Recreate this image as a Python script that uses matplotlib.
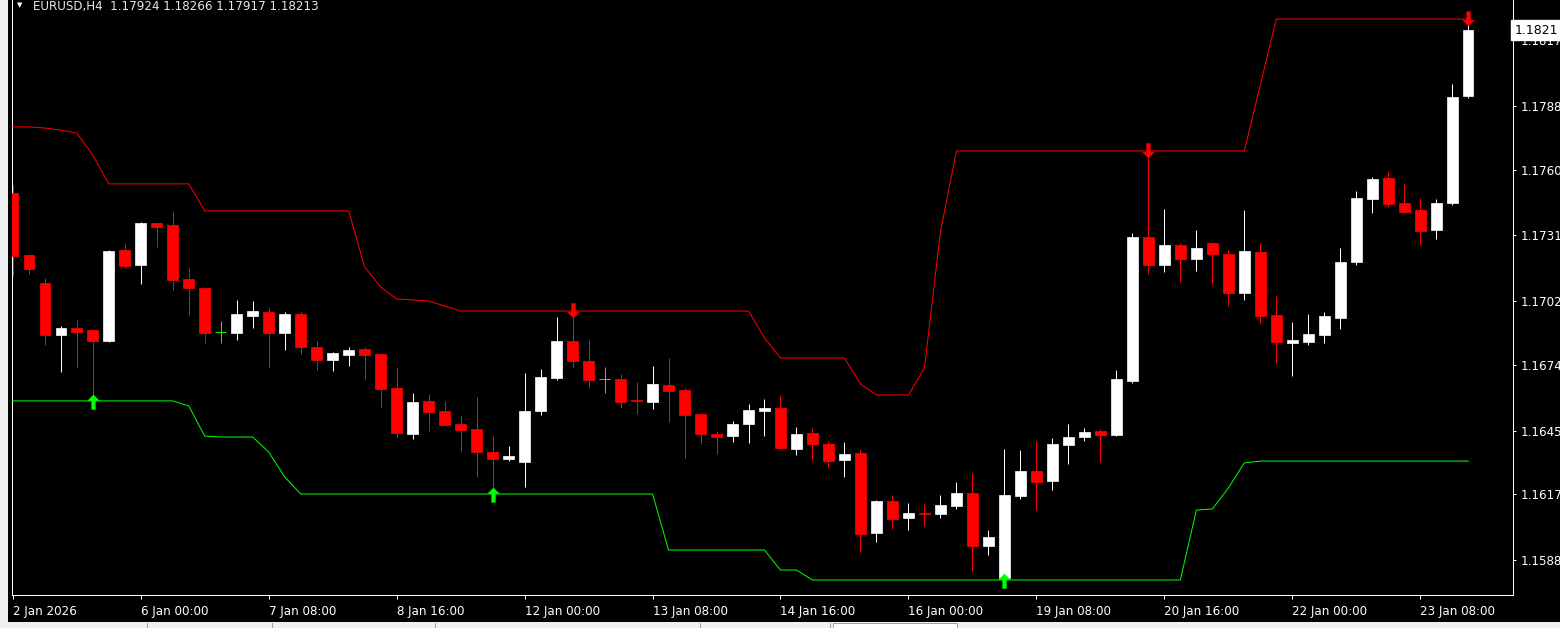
import matplotlib
matplotlib.use('Agg')
import matplotlib.pyplot as plt
from matplotlib.path import Path
from matplotlib.patches import Rectangle
import numpy as np

symbol = 'EURUSD,H4'

# H4 candles, left to right
opens = [1.17497, 1.17224, 1.17100, 1.16871, 1.16902, 1.16893, 1.16845, 1.17246, 1.17180, 1.17365,
         1.17356, 1.17118, 1.17078, 1.16885, 1.16880, 1.16955, 1.16973, 1.16880, 1.16964, 1.16818,
         1.16761, 1.16783, 1.16810, 1.16788, 1.16638, 1.16435, 1.16581, 1.16537, 1.16479, 1.16457,
         1.16356, 1.16325, 1.16312, 1.16537, 1.16682, 1.16845, 1.16757, 1.16678, 1.16678, 1.16583,
         1.16576, 1.16651, 1.16629, 1.16523, 1.16435, 1.16426, 1.16479, 1.16537, 1.16550, 1.16369,
         1.16440, 1.16391, 1.16321, 1.16352, 1.15999, 1.16140, 1.16065, 1.16087, 1.16083, 1.16118,
         1.16175, 1.15942, 1.15801, 1.16162, 1.16272, 1.16228, 1.16387, 1.16422, 1.16448, 1.16431,
         1.16669, 1.17303, 1.17180, 1.17268, 1.17206, 1.17277, 1.17228, 1.17056, 1.17237, 1.16959,
         1.16836, 1.16840, 1.16871, 1.16946, 1.17193, 1.17470, 1.17563, 1.17453, 1.17422, 1.17334,
         1.17453, 1.17924]
highs = [1.17532, 1.17228, 1.17122, 1.16911, 1.16937, 1.16898, 1.17246, 1.17277, 1.17369, 1.17369,
         1.17418, 1.17166, 1.17083, 1.16933, 1.17026, 1.17021, 1.16990, 1.16973, 1.16977, 1.16845,
         1.16796, 1.16818, 1.16818, 1.16792, 1.16730, 1.16616, 1.16611, 1.16581, 1.16519, 1.16598,
         1.16426, 1.16382, 1.16704, 1.16722, 1.16951, 1.16977, 1.16849, 1.16730, 1.16700, 1.16664,
         1.16735, 1.16770, 1.16638, 1.16523, 1.16448, 1.16493, 1.16567, 1.16589, 1.16607, 1.16466,
         1.16462, 1.16404, 1.16400, 1.16369, 1.16144, 1.16167, 1.16131, 1.16127, 1.16167, 1.16224,
         1.16263, 1.16012, 1.16369, 1.16365, 1.16404, 1.16418, 1.16479, 1.16462, 1.16457, 1.16717,
         1.17321, 1.17682, 1.17426, 1.17277, 1.17334, 1.17281, 1.17246, 1.17422, 1.17277, 1.17043,
         1.16929, 1.16964, 1.16973, 1.17255, 1.17506, 1.17567, 1.17594, 1.17541, 1.17475, 1.17470,
         1.17977, 1.18266]
lows = [1.17131, 1.17140, 1.16827, 1.16708, 1.16726, 1.16585, 1.16840, 1.17166, 1.17096, 1.17259,
        1.17070, 1.16959, 1.16836, 1.16836, 1.16849, 1.16902, 1.16726, 1.16805, 1.16788, 1.16717,
        1.16713, 1.16735, 1.16678, 1.16550, 1.16422, 1.16413, 1.16448, 1.16470, 1.16356, 1.16246,
        1.16171, 1.16316, 1.16202, 1.16519, 1.16673, 1.16726, 1.16638, 1.16616, 1.16550, 1.16523,
        1.16545, 1.16488, 1.16330, 1.16391, 1.16347, 1.16400, 1.16396, 1.16426, 1.16369, 1.16343,
        1.16321, 1.16285, 1.16246, 1.15915, 1.15959, 1.16017, 1.16012, 1.16030, 1.16065, 1.16105,
        1.15832, 1.15902, 1.15792, 1.16149, 1.16100, 1.16189, 1.16303, 1.16404, 1.16312, 1.16426,
        1.16660, 1.17140, 1.17149, 1.17105, 1.17153, 1.17096, 1.16999, 1.17026, 1.16924, 1.16748,
        1.16691, 1.16827, 1.16836, 1.16898, 1.17180, 1.17409, 1.17435, 1.17409, 1.17268, 1.17294,
        1.17444, 1.17917]
closes = [1.17219, 1.17162, 1.16871, 1.16902, 1.16885, 1.16845, 1.17241, 1.17175, 1.17365, 1.17347,
          1.17114, 1.17078, 1.16880, 1.16885, 1.16964, 1.16977, 1.16880, 1.16964, 1.16818, 1.16761,
          1.16792, 1.16805, 1.16783, 1.16633, 1.16440, 1.16576, 1.16532, 1.16475, 1.16453, 1.16356,
          1.16325, 1.16338, 1.16537, 1.16686, 1.16845, 1.16757, 1.16673, 1.16678, 1.16576, 1.16581,
          1.16656, 1.16625, 1.16519, 1.16435, 1.16422, 1.16479, 1.16541, 1.16550, 1.16374, 1.16435,
          1.16391, 1.16316, 1.16347, 1.15995, 1.16140, 1.16061, 1.16087, 1.16085, 1.16122, 1.16175,
          1.15942, 1.15982, 1.16167, 1.16272, 1.16224, 1.16391, 1.16422, 1.16444, 1.16431, 1.16678,
          1.17303, 1.17180, 1.17268, 1.17206, 1.17255, 1.17228, 1.17056, 1.17241, 1.16955, 1.16840,
          1.16849, 1.16876, 1.16955, 1.17193, 1.17475, 1.17559, 1.17448, 1.17413, 1.17329, 1.17453,
          1.17920, 1.18213]

# channel indicator (red = upper, green = lower)
upper_band = [1.17788, 1.17788, 1.17783, 1.17774, 1.17761, 1.17664, 1.17537, 1.17537, 1.17537, 1.17537,
              1.17537, 1.17537, 1.17418, 1.17418, 1.17418, 1.17418, 1.17418, 1.17418, 1.17418, 1.17418,
              1.17418, 1.17418, 1.17171, 1.17083, 1.17030, 1.17026, 1.17021, 1.16999, 1.16977, 1.16977,
              1.16977, 1.16977, 1.16977, 1.16977, 1.16977, 1.16977, 1.16977, 1.16977, 1.16977, 1.16977,
              1.16977, 1.16977, 1.16977, 1.16977, 1.16977, 1.16977, 1.16977, 1.16858, 1.16770, 1.16770,
              1.16770, 1.16770, 1.16770, 1.16656, 1.16607, 1.16607, 1.16607, 1.16726, 1.17325, 1.17682,
              1.17682, 1.17682, 1.17682, 1.17682, 1.17682, 1.17682, 1.17682, 1.17682, 1.17682, 1.17682,
              1.17682, 1.17682, 1.17682, 1.17682, 1.17682, 1.17682, 1.17682, 1.17682, 1.17973, 1.18263,
              1.18263, 1.18263, 1.18263, 1.18263, 1.18263, 1.18263, 1.18263, 1.18263, 1.18263, 1.18263,
              1.18263, 1.18263]
lower_band = [1.16581, 1.16581, 1.16581, 1.16581, 1.16581, 1.16581, 1.16581, 1.16581, 1.16581, 1.16581,
              1.16581, 1.16559, 1.16426, 1.16422, 1.16422, 1.16422, 1.16356, 1.16246, 1.16171, 1.16171,
              1.16171, 1.16171, 1.16171, 1.16171, 1.16171, 1.16171, 1.16171, 1.16171, 1.16171, 1.16171,
              1.16171, 1.16171, 1.16171, 1.16171, 1.16171, 1.16171, 1.16171, 1.16171, 1.16171, 1.16171,
              1.16171, 1.15924, 1.15924, 1.15924, 1.15924, 1.15924, 1.15924, 1.15924, 1.15836, 1.15836,
              1.15792, 1.15792, 1.15792, 1.15792, 1.15792, 1.15792, 1.15792, 1.15792, 1.15792, 1.15792,
              1.15792, 1.15792, 1.15792, 1.15792, 1.15792, 1.15792, 1.15792, 1.15792, 1.15792, 1.15792,
              1.15792, 1.15792, 1.15792, 1.15792, 1.16100, 1.16105, 1.16197, 1.16308, 1.16316, 1.16316,
              1.16316, 1.16316, 1.16316, 1.16316, 1.16316, 1.16316, 1.16316, 1.16316, 1.16316, 1.16316,
              1.16316, 1.16316]

buy_signals = [5, 30, 62]
sell_signals = [35, 71, 91]

time_labels = ['2 Jan 2026', '6 Jan 00:00', '7 Jan 08:00', '8 Jan 16:00', '12 Jan 00:00',
               '13 Jan 08:00', '14 Jan 16:00', '16 Jan 00:00', '19 Jan 08:00', '20 Jan 16:00',
               '22 Jan 00:00', '23 Jan 08:00']
time_label_bars = [0, 8, 16, 24, 32, 40, 48, 56, 64, 72, 80, 88]

price_ticks = [1.1817, 1.1788, 1.1760, 1.1731, 1.1702, 1.1674, 1.1645, 1.1617, 1.1588]

W, H = 1560, 628
fig = plt.figure(figsize=(W / 100, H / 100), dpi=100, facecolor='black')
ax = fig.add_axes([12 / W, 33 / H, (1513 - 12) / W, (H - 33) / H])
ax.set_facecolor('black')

o = np.array(opens)
h = np.array(highs)
l = np.array(lows)
c = np.array(closes)
idx = np.arange(len(o))

RED = '#ff0000'
WHITE = '#ffffff'
GREEN = '#00ff00'
px = 0.72  # one pixel in points

up = c > o
down = c < o
doji = c == o

# wicks
ax.vlines(idx[up], l[up], h[up], color=WHITE, lw=px, zorder=2)
ax.vlines(idx[down], l[down], h[down], color=RED, lw=px, zorder=2)
ax.vlines(idx[doji], l[doji], h[doji], color=GREEN, lw=px, zorder=2)

# bodies
bw = 0.66
ax.bar(idx[up], (c - o)[up], bottom=o[up], width=bw, color=WHITE, edgecolor=WHITE, lw=0.5, zorder=3)
ax.bar(idx[down], (o - c)[down], bottom=c[down], width=bw, color=RED, edgecolor=RED, lw=0.5, zorder=3)
ax.hlines(c[doji], idx[doji] - bw / 2, idx[doji] + bw / 2, color=GREEN, lw=px, zorder=3)

# channel lines
ax.plot(idx, upper_band, color=RED, lw=px, zorder=4)
ax.plot(idx, lower_band, color=GREEN, lw=px, zorder=4)

# signal arrows
up_verts = [(0, 0.45), (0.4, 0.05), (0.13, 0.05), (0.13, -0.55), (-0.13, -0.55),
            (-0.13, 0.05), (-0.4, 0.05), (0, 0.45)]
codes = [Path.MOVETO] + [Path.LINETO] * 6 + [Path.CLOSEPOLY]
up_arrow = Path(up_verts, codes)
down_arrow = Path([(x, -y) for x, y in up_verts], codes)

ub = np.array(upper_band)
lb = np.array(lower_band)
ax.plot(buy_signals, lb[buy_signals], ls='none', marker=up_arrow, ms=11.5,
        color=GREEN, mec=GREEN, mew=0.3, zorder=5)
ax.plot(sell_signals, ub[sell_signals], ls='none', marker=down_arrow, ms=11.5,
        color=RED, mec=RED, mew=0.3, zorder=5)

ax.set_xlim(-0.05, 93.8)
ax.set_ylim(1.15726, 1.18347)

# axes styling like the terminal
ax.spines['top'].set_visible(False)
for side in ['left', 'bottom', 'right']:
    ax.spines[side].set_color(WHITE)
    ax.spines[side].set_linewidth(px)

ax.yaxis.tick_right()
ax.set_yticks(price_ticks)
ax.set_yticklabels([f'{v:.4f}' for v in price_ticks])
ax.tick_params(axis='y', direction='out', length=2.2, width=px, color=WHITE,
               labelcolor=WHITE, labelsize=8.6, pad=3.5)

ax.set_xticks(time_label_bars)
ax.set_xticklabels(time_labels, ha='left')
ax.tick_params(axis='x', direction='out', length=3, width=px, color=WHITE,
               labelcolor=WHITE, labelsize=8.6, pad=4)

# current price box
ax.text(1.0012, c[-1], f'{c[-1]:.4f}', transform=ax.get_yaxis_transform(),
        va='center', ha='left', fontsize=9, color='black', clip_on=False, zorder=10,
        bbox=dict(boxstyle='square,pad=0.28', fc=WHITE, ec=WHITE))

# header
fig.text(33 / W, 1 - 10 / H, f'{symbol}  {o[-1]:.5f} {h[-1]:.5f} {l[-1]:.5f} {c[-1]:.5f}',
         color='#e6e6e6', fontsize=8.6, va='baseline', ha='left')
fig.text(20 / W, 1 - 5 / H, '\u25bc', color=WHITE, fontsize=5, va='center', ha='center')

# window frame bits
fig.patches.append(Rectangle((0, 0), 8 / W, 1, transform=fig.transFigure,
                             fc='#f0f0f0', ec='none', zorder=0))
fig.patches.append(Rectangle((0, 0), 1, 6 / H, transform=fig.transFigure,
                             fc='#f0f0f0', ec='none', zorder=0))
fig.patches.append(Rectangle((833 / W, 0), 124 / W, 5 / H, transform=fig.transFigure,
                             fc=WHITE, ec='#a0a0a0', lw=0.7, zorder=1))
for xt in [147, 272, 435, 700, 830]:
    fig.lines.append(plt.Line2D([xt / W, xt / W], [0, 5 / H], transform=fig.transFigure,
                                color='#a0a0a0', lw=0.7))

fig.savefig('out.png', dpi=100, facecolor='black')
